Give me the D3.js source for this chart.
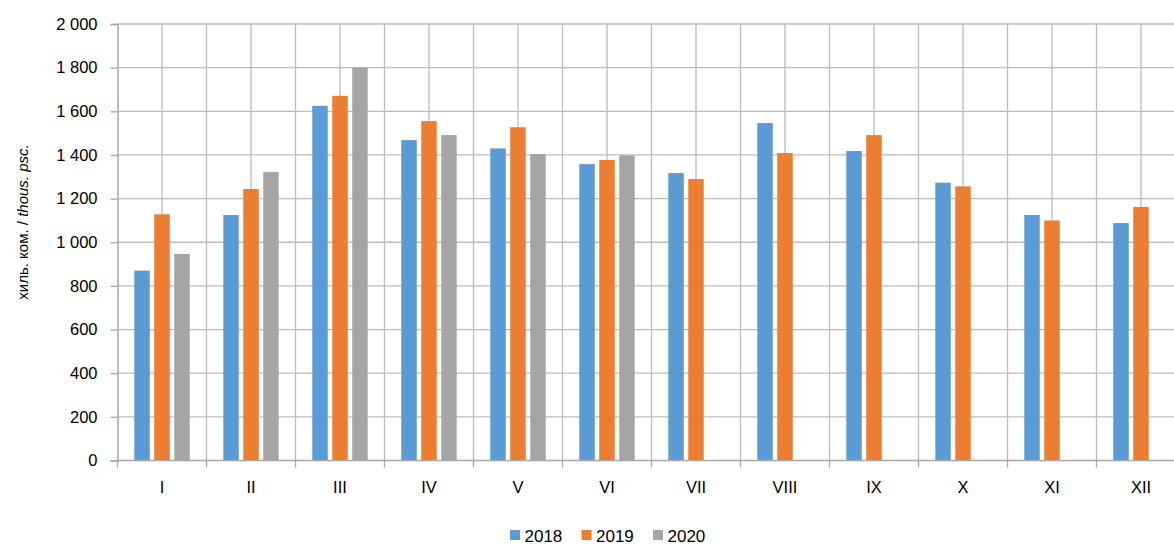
<!DOCTYPE html>
<html>
<head>
<meta charset="utf-8">
<script src="https://cdn.jsdelivr.net/npm/d3@7"></script>
<style>
  html, body { margin: 0; padding: 0; background: #fff; overflow: hidden; }
  svg { display: block; font-family: "Liberation Sans", Arial, sans-serif; }
</style>
</head>
<body>
<div id="chart"></div>
<script>
// Months (Roman numerals) and yearly values, thous. pcs
const months = ['I', 'II', 'III', 'IV', 'V', 'VI', 'VII', 'VIII', 'IX', 'X', 'XI', 'XII'];
const years = ['2018', '2019', '2020'];
const values2018 = [870, 1125, 1625, 1468, 1430, 1358, 1317, 1546, 1418, 1273, 1125, 1088];
const values2019 = [1128, 1244, 1671, 1555, 1527, 1377, 1290, 1409, 1491, 1256, 1100, 1162];
const values2020 = [946, 1322, 1800, 1491, 1404, 1398, null, null, null, null, null, null];
const yTicks = [0, 200, 400, 600, 800, 1000, 1200, 1400, 1600, 1800, 2000];

const COLORS = { '2018': '#5B9BD5', '2019': '#ED7D31', '2020': '#A5A5A5' };

const width = 1174, height = 545;
const margin = { left: 117.5, top: 24, bottom: 84.5 };
const plotRight = margin.left + 89 * months.length; // plot runs past the window edge

const svg = d3.select('#chart').append('svg')
  .attr('width', width)
  .attr('height', height);

const fmt = d3.formatLocale({ decimal: ',', thousands: '\u00a0', grouping: [3], currency: ['', ''] }).format(',d');

const x0 = d3.scaleBand().domain(months).range([margin.left, plotRight]).padding(0);
const x1 = d3.scaleBand().domain(years).range([0, x0.bandwidth()])
  .paddingInner(0.225).paddingOuter(0.84);
const y = d3.scaleLinear().domain([0, 2000]).range([height - margin.bottom, margin.top]);

const rows = months.map((m, i) => ({
  month: m,
  vals: [
    { year: '2018', v: values2018[i] },
    { year: '2019', v: values2019[i] },
    { year: '2020', v: values2020[i] }
  ]
}));

// Gridlines
const grid = svg.append('g').attr('stroke', '#bcbcbc').attr('stroke-width', 1.3);
grid.selectAll('line.h')
  .data(yTicks.slice(1))
  .enter().append('line')
  .attr('x1', margin.left).attr('x2', plotRight)
  .attr('y1', d => y(d)).attr('y2', d => y(d));

// vertical lines at category boundaries and centres
const vLines = [];
months.forEach(m => {
  vLines.push(x0(m));
  vLines.push(x0(m) + x0.bandwidth() / 2);
});
vLines.push(plotRight);
grid.selectAll('line.v')
  .data(vLines.slice(1))
  .enter().append('line')
  .attr('x1', d => d).attr('x2', d => d)
  .attr('y1', y(2000)).attr('y2', y(0));

// Bars
const groups = svg.append('g').selectAll('g')
  .data(rows)
  .enter().append('g')
  .attr('transform', d => `translate(${x0(d.month)},0)`);

groups.selectAll('rect')
  .data(d => d.vals.filter(v => v.v !== null))
  .enter().append('rect')
  .attr('x', d => x1(d.year))
  .attr('width', x1.bandwidth())
  .attr('y', d => y(d.v))
  .attr('height', d => y(0) - y(d.v))
  .attr('fill', d => COLORS[d.year]);

// Y axis
const yAxis = svg.append('g')
  .attr('transform', `translate(${margin.left},0)`)
  .call(d3.axisLeft(y).tickValues(yTicks).tickFormat(fmt).tickSize(7).tickPadding(13));
yAxis.select('.domain').attr('stroke', '#a6a6a6').attr('stroke-width', 1.5);
yAxis.selectAll('.tick line').attr('stroke', '#a6a6a6').attr('stroke-width', 1.3);
yAxis.selectAll('.tick text')
  .attr('fill', '#000')
  .style('font-size', '16.5px');

// X axis
const xAxisG = svg.append('g').attr('transform', `translate(0,${y(0)})`);
xAxisG.append('line')
  .attr('x1', margin.left).attr('x2', plotRight)
  .attr('stroke', '#a6a6a6').attr('stroke-width', 1.5);
xAxisG.selectAll('line.tick')
  .data(months.map(m => x0(m)).concat([plotRight]))
  .enter().append('line')
  .attr('x1', d => d).attr('x2', d => d)
  .attr('y1', 0).attr('y2', 7)
  .attr('stroke', '#a6a6a6').attr('stroke-width', 1.3);
xAxisG.selectAll('text')
  .data(months)
  .enter().append('text')
  .attr('x', d => x0(d) + x0.bandwidth() / 2)
  .attr('y', 32)
  .attr('text-anchor', 'middle')
  .style('font-size', '16.5px')
  .attr('fill', '#000')
  .text(d => d);

// Y axis title
const title = svg.append('text')
  .attr('transform', 'translate(28,222) rotate(-90)')
  .attr('text-anchor', 'middle')
  .style('font-size', '15px')
  .attr('fill', '#000');
title.append('tspan').text('хиль. ком. / ');
title.append('tspan').style('font-style', 'italic').text('thous. psc.');

// Legend
const legend = svg.append('g').attr('transform', 'translate(510,530)');
const item = legend.selectAll('g')
  .data(years)
  .enter().append('g')
  .attr('transform', (d, i) => `translate(${i * 71.5},0)`);
item.append('rect')
  .attr('width', 10).attr('height', 10)
  .attr('fill', d => COLORS[d]);
item.append('text')
  .attr('x', 14.5).attr('y', 11.5)
  .style('font-size', '17px')
  .attr('fill', '#000')
  .text(d => d);
</script>
</body>
</html>
